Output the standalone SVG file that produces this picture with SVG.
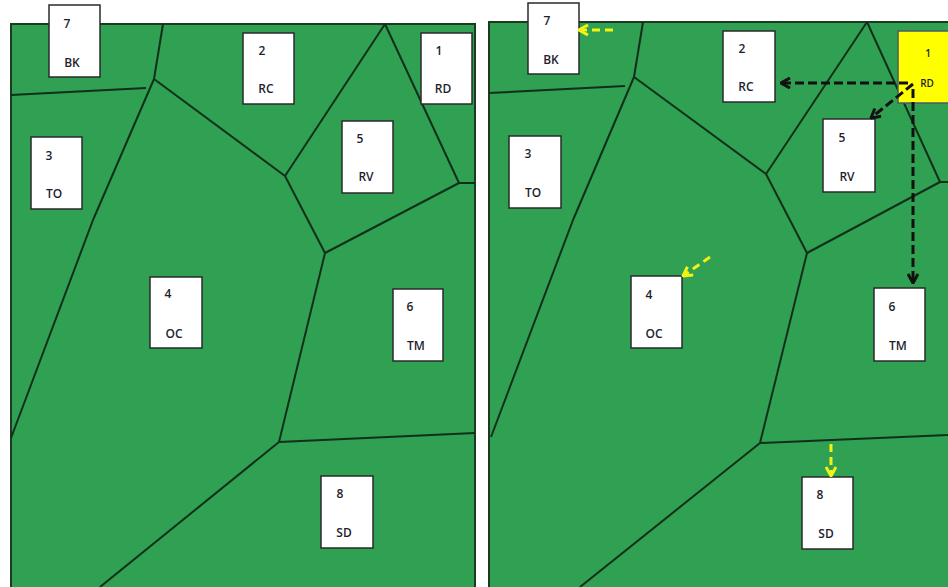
<svg xmlns="http://www.w3.org/2000/svg" width="948" height="587" viewBox="0 0 948 587">
<defs>
<style>
.panel{fill:#30a052;stroke:#1c3a22;stroke-width:2}
.edge{fill:none;stroke:#10301a;stroke-width:2;stroke-linejoin:round}
.box{fill:#ffffff;stroke:#2a2a2a;stroke-width:1.5}
.ybox{fill:#ffff00;stroke:#4a5a6a;stroke-width:1.5}
.t{font-family:"Open Sans","Liberation Sans",sans-serif;font-size:12px;font-weight:600;fill:#1e1e2e;text-anchor:middle;dominant-baseline:central}
.ts{font-family:"Open Sans","Liberation Sans",sans-serif;font-size:10px;font-weight:600;fill:#1e1e2e;text-anchor:middle;dominant-baseline:central}
.blk{fill:none;stroke:#111;stroke-width:3;stroke-dasharray:9 4}
.yel{fill:none;stroke:#f2f215;stroke-width:3;stroke-dasharray:8 5}
</style>
<marker id="ab" viewBox="0 0 12 12" refX="11" refY="6" markerWidth="12" markerHeight="12" markerUnits="userSpaceOnUse" orient="auto">
<path d="M2,1 L11,6 L2,11" fill="none" stroke="#111" stroke-width="3"/>
</marker>
<marker id="ay" viewBox="0 0 12 12" refX="11" refY="6" markerWidth="12" markerHeight="12" markerUnits="userSpaceOnUse" orient="auto">
<path d="M2,1 L11,6 L2,11" fill="none" stroke="#f2f215" stroke-width="3"/>
</marker>
</defs>
<rect width="948" height="587" fill="#ffffff"/>
<g id="left-panel">
<rect class="panel" x="11" y="24" width="464" height="564"/>
<polyline class="edge" points="163,24 154,79"/>
<polyline class="edge" points="11,95 146,88"/>
<polyline class="edge" points="154,79 93,220 11,438"/>
<polyline class="edge" points="154,79 285,176"/>
<polyline class="edge" points="385,24 285,176"/>
<polyline class="edge" points="385,24 459,183 475,183"/>
<polyline class="edge" points="285,176 325,253"/>
<polyline class="edge" points="325,253 459,183"/>
<polyline class="edge" points="325,253 279,442"/>
<polyline class="edge" points="279,442 475,433"/>
<polyline class="edge" points="279,442 100,587"/>
</g>
<g id="right-panel">
<rect class="panel" x="489" y="22" width="470" height="566"/>
<polyline class="edge" points="643,22 634,77"/>
<polyline class="edge" points="489,93 625,86"/>
<polyline class="edge" points="634,77 573,220 491,437"/>
<polyline class="edge" points="634,77 766,174"/>
<polyline class="edge" points="867,22 766,174"/>
<polyline class="edge" points="867,22 940,182 950,182"/>
<polyline class="edge" points="766,174 807,253"/>
<polyline class="edge" points="807,253 940,182"/>
<polyline class="edge" points="807,253 760,443"/>
<polyline class="edge" points="760,443 950,435"/>
<polyline class="edge" points="760,443 580,587"/>
</g>
<g id="L-BK"><rect class="box" x="49" y="5" width="51" height="72"/><text class="t" x="67" y="23">7</text><text class="t" x="72" y="62">BK</text></g>
<g id="L-RC"><rect class="box" x="243" y="33" width="51" height="71"/><text class="t" x="262" y="50">2</text><text class="t" x="266" y="88">RC</text></g>
<g id="L-RD"><rect class="box" x="421" y="33" width="51" height="71"/><text class="t" x="439" y="50">1</text><text class="t" x="443" y="88">RD</text></g>
<g id="L-RV"><rect class="box" x="342" y="121" width="51" height="72"/><text class="t" x="360" y="138">5</text><text class="t" x="366" y="176">RV</text></g>
<g id="L-TO"><rect class="box" x="31" y="137" width="51" height="72"/><text class="t" x="49" y="155">3</text><text class="t" x="54" y="193">TO</text></g>
<g id="L-OC"><rect class="box" x="150" y="277" width="52" height="71"/><text class="t" x="168" y="293">4</text><text class="t" x="174" y="333">OC</text></g>
<g id="L-TM"><rect class="box" x="393" y="289" width="50" height="72"/><text class="t" x="410" y="306">6</text><text class="t" x="416" y="345">TM</text></g>
<g id="L-SD"><rect class="box" x="321" y="476" width="52" height="72"/><text class="t" x="340" y="493">8</text><text class="t" x="344" y="532">SD</text></g>
<g id="R-BK"><rect class="box" x="528" y="3" width="51" height="71"/><text class="t" x="547" y="20">7</text><text class="t" x="551" y="59">BK</text></g>
<g id="R-RC"><rect class="box" x="723" y="31" width="52" height="71"/><text class="t" x="742" y="48">2</text><text class="t" x="746" y="86">RC</text></g>
<g id="R-RD"><rect class="ybox" x="898" y="31" width="56" height="72"/><text class="ts" x="928" y="53">1</text><text class="ts" x="927" y="83">RD</text></g>
<g id="R-RV"><rect class="box" x="823" y="119" width="52" height="73"/><text class="t" x="842" y="137">5</text><text class="t" x="847" y="176">RV</text></g>
<g id="R-TO"><rect class="box" x="509" y="136" width="52" height="72"/><text class="t" x="528" y="153">3</text><text class="t" x="533" y="192">TO</text></g>
<g id="R-OC"><rect class="box" x="631" y="276" width="51" height="72"/><text class="t" x="649" y="294">4</text><text class="t" x="654" y="333">OC</text></g>
<g id="R-TM"><rect class="box" x="874" y="288" width="51" height="73"/><text class="t" x="892" y="306">6</text><text class="t" x="898" y="345">TM</text></g>
<g id="R-SD"><rect class="box" x="802" y="477" width="51" height="72"/><text class="t" x="820" y="494">8</text><text class="t" x="826" y="533">SD</text></g>
<g id="connectors">
<line class="blk" x1="908" y1="83" x2="781" y2="83" marker-end="url(#ab)"/>
<line class="blk" x1="913" y1="84" x2="871" y2="118" marker-end="url(#ab)"/>
<line class="blk" x1="913" y1="89" x2="913" y2="283" marker-end="url(#ab)"/>
<line class="yel" x1="613" y1="30" x2="579" y2="30" marker-end="url(#ay)"/>
<line class="yel" x1="710" y1="257" x2="683" y2="276" marker-end="url(#ay)"/>
<line class="yel" x1="831" y1="444" x2="831" y2="476" marker-end="url(#ay)"/>
</g>
</svg>
